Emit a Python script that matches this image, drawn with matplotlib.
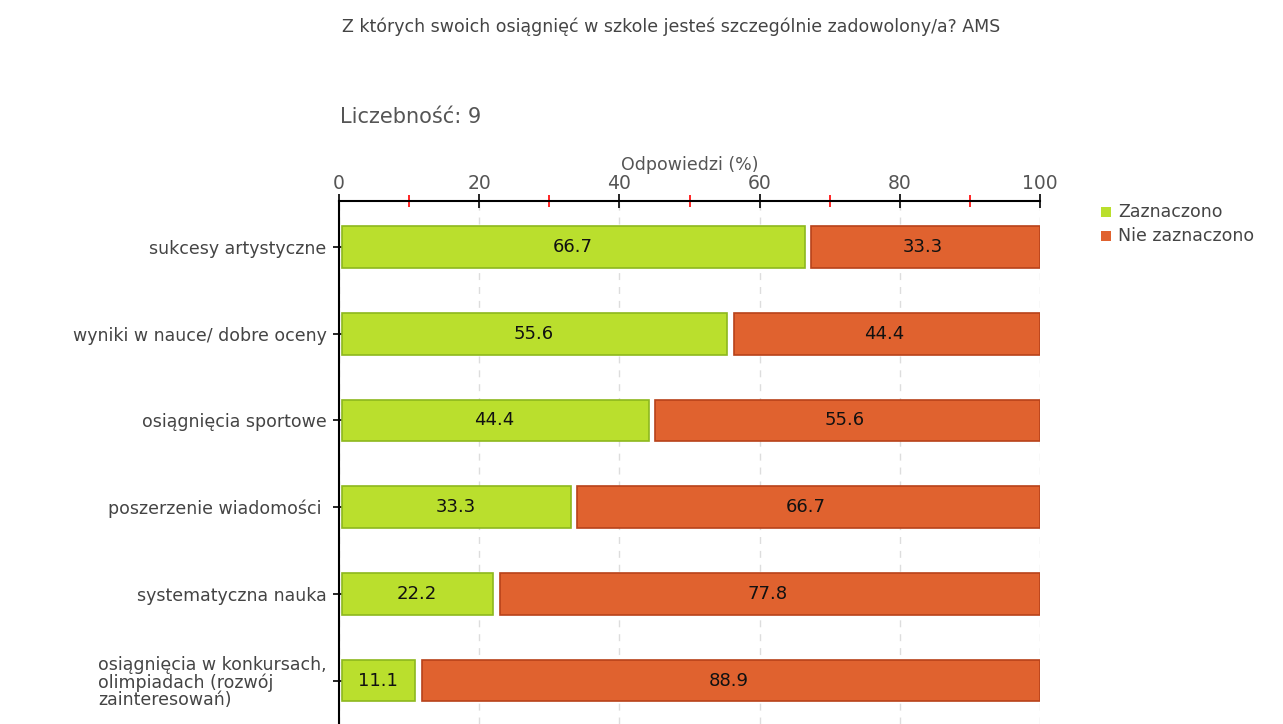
import matplotlib
matplotlib.use('Agg')
import matplotlib.pyplot as plt
from matplotlib.ticker import MultipleLocator
from matplotlib.patches import Rectangle

# data
categories = [
    "sukcesy artystyczne",
    "wyniki w nauce/ dobre oceny",
    "osiągnięcia sportowe",
    "poszerzenie wiadomości ",
    "systematyczna nauka",
    "osiągnięcia w konkursach,\nolimpiadach (rozwój\nzainteresowań)",
]
zaznaczono = [66.7, 55.6, 44.4, 33.3, 22.2, 11.1]
nie_zaznaczono = [33.3, 44.4, 55.6, 66.7, 77.8, 88.9]

GREEN = "#BADF2D"
GREEN_EDGE = "#8DB81E"
ORANGE = "#E0622F"
ORANGE_EDGE = "#B8421A"
TXT = "#555555"

fig = plt.figure(figsize=(12.83, 7.24), dpi=100, facecolor='white')
ax = fig.add_axes([339/1283, 0, 701/1283, 523/724])

ys = list(range(len(categories)))
ax.barh(ys, [v - 0.6 for v in zaznaczono], height=0.48, left=0.4, color=GREEN,
        edgecolor=GREEN_EDGE, linewidth=1.2, zorder=3)
ax.barh(ys, [100 - v - 0.7 for v in zaznaczono], height=0.48,
        left=[v + 0.7 for v in zaznaczono], color=ORANGE,
        edgecolor=ORANGE_EDGE, linewidth=1.2, zorder=3)

for y, a, b in zip(ys, zaznaczono, nie_zaznaczono):
    ax.text(a / 2, y, f"{a:.1f}", ha='center', va='center',
            fontsize=13, color='#111111', zorder=4)
    ax.text(a + b / 2, y, f"{b:.1f}", ha='center', va='center',
            fontsize=13, color='#111111', zorder=4)

ax.set_xlim(0, 100)
ax.set_ylim(5.5, -0.53)
ax.xaxis.tick_top()
ax.xaxis.set_label_position('top')
ax.xaxis.set_major_locator(MultipleLocator(20))
ax.xaxis.set_minor_locator(MultipleLocator(10))
ax.tick_params(axis='x', which='major', direction='inout', length=10,
               width=1.2, color='black', labelsize=13.5, labelcolor=TXT, pad=1)
ax.tick_params(axis='x', which='minor', direction='inout', length=8,
               width=1.2, color='red')
ax.set_xlabel("Odpowiedzi (%)", fontsize=12.5, color=TXT, labelpad=3)

ax.set_yticks(ys)
ax.set_yticklabels(categories, fontsize=12.5, color='#444444', linespacing=0.95,
                   multialignment='left')
ax.tick_params(axis='y', direction='inout', length=8, width=1.2, pad=5)

for s in ['right', 'bottom']:
    ax.spines[s].set_visible(False)
ax.spines['top'].set_linewidth(1.5)
ax.spines['left'].set_linewidth(1.5)

ax.grid(axis='x', which='major', linestyle=(0, (5, 5)), color='#DDDDDD',
        linewidth=1.0, zorder=0)
ax.set_axisbelow(True)

fig.text(342/1283, 1 - 27/724, "Z których swoich osiągnięć w szkole jesteś szczególnie zadowolony/a? AMS",
         ha='left', va='center', fontsize=12.5, color='#444444')
fig.text(340/1283, 1 - 117/724, "Liczebność: 9",
         ha='left', va='center', fontsize=15, color='#555555')

# legend
for i, (lab, col) in enumerate([("Zaznaczono", GREEN), ("Nie zaznaczono", ORANGE)]):
    yy = 1 - (212 + 24 * i) / 724
    fig.patches.append(Rectangle((1101/1283, yy - 5/724), 10/1283, 10/724,
                                 transform=fig.transFigure, facecolor=col,
                                 edgecolor='none', figure=fig))
    fig.text(1118/1283, yy, lab, ha='left', va='center', fontsize=12.5, color='#444444')

fig.savefig("out.png", dpi=100, facecolor='white')
